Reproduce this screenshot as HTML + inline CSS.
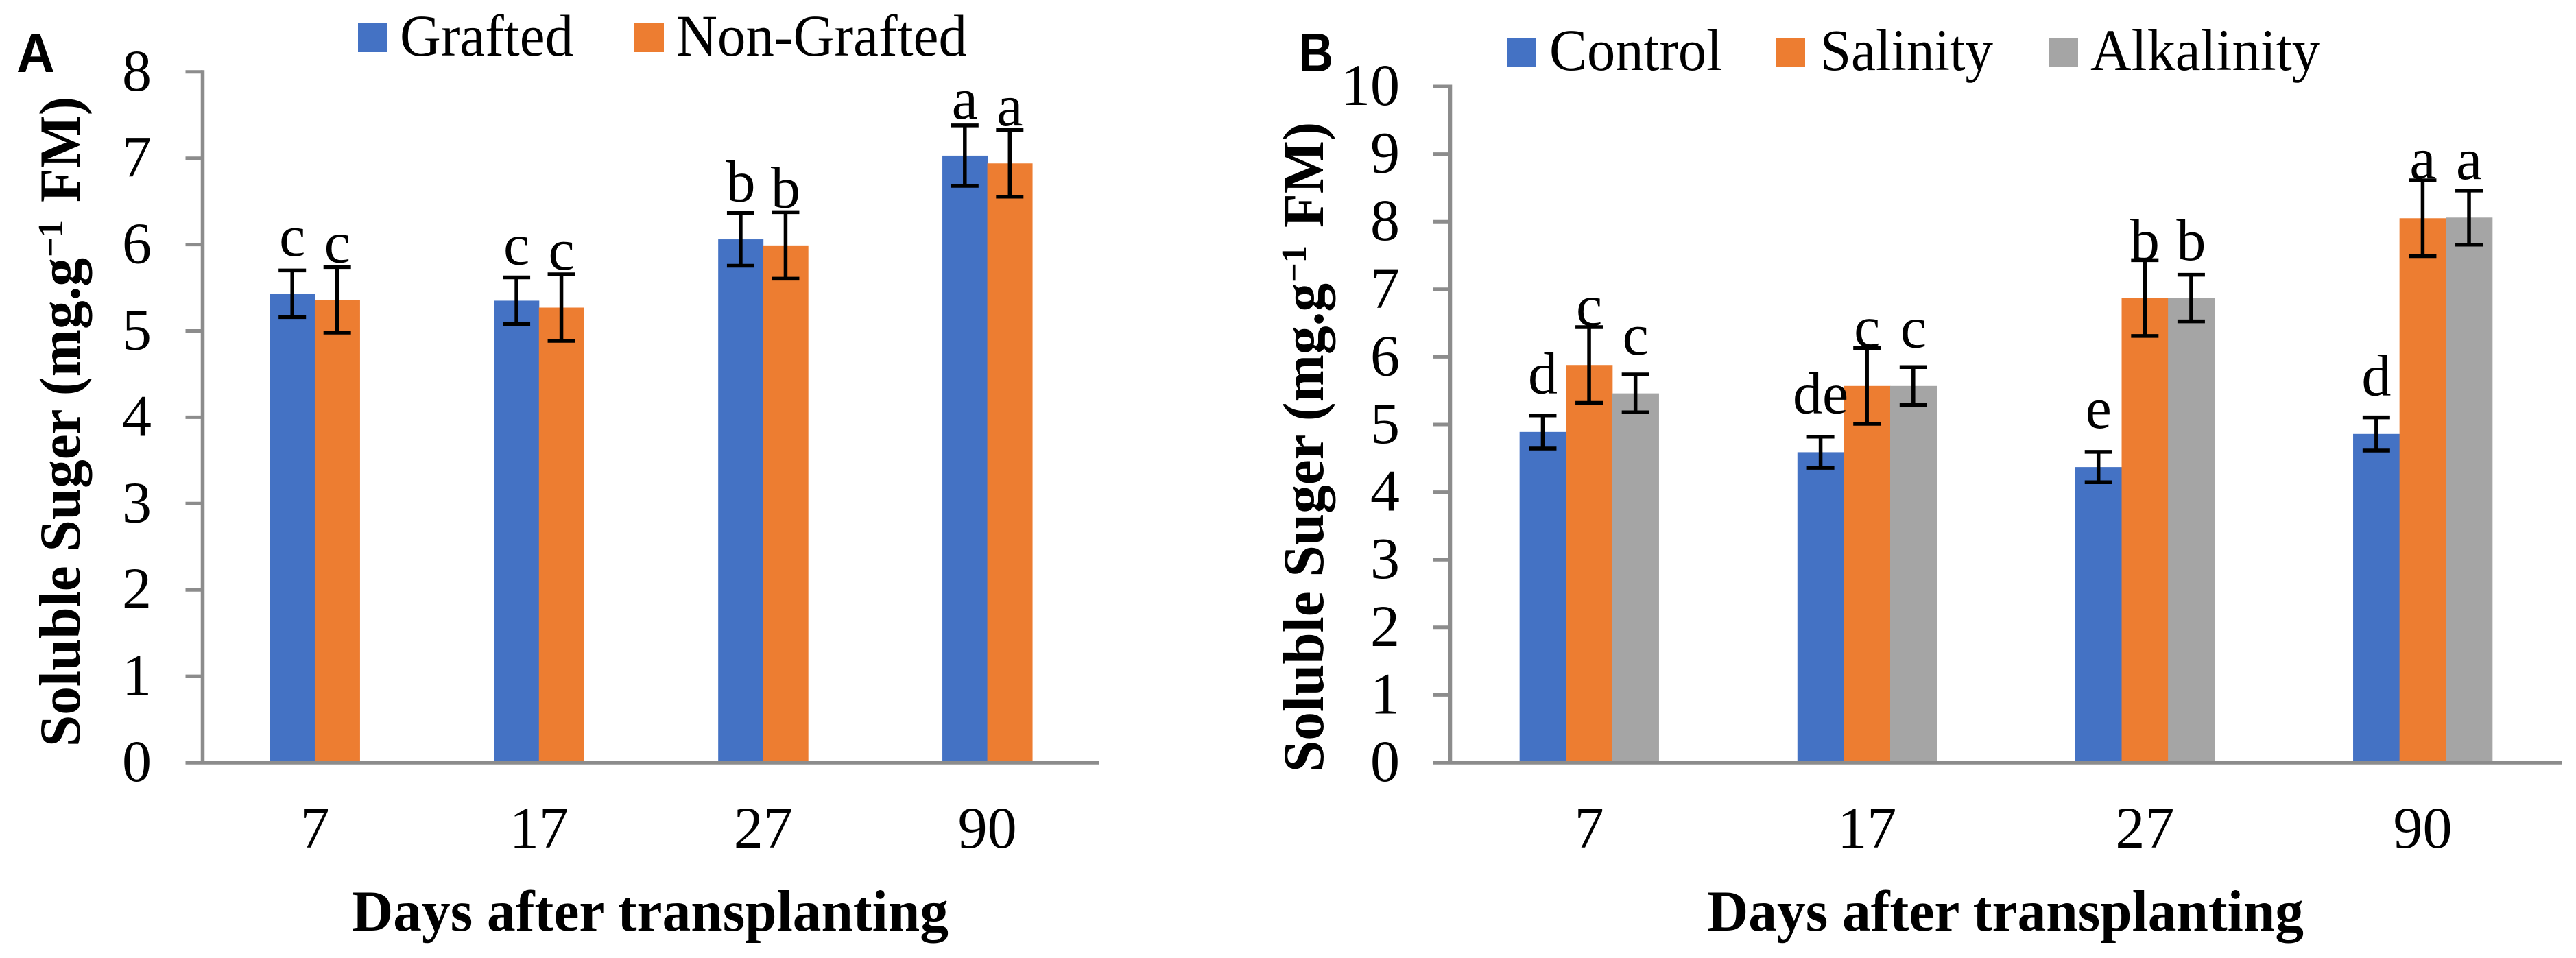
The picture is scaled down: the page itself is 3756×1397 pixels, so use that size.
<!DOCTYPE html>
<html lang="en">
<head>
<meta charset="utf-8">
<title>Soluble Sugar charts</title>
<style>
html,body{margin:0;padding:0;background:#fff;width:3756px;height:1397px;overflow:hidden}
svg{display:block}
text{font-family:"Liberation Serif",serif;fill:#000}
.sans{font-family:"Liberation Sans",sans-serif;font-weight:bold}
.bold{font-weight:bold}
</style>
</head>
<body>
<svg id="figure" xmlns="http://www.w3.org/2000/svg" width="3756" height="1397" viewBox="0 0 3756 1397">
  <rect x="0" y="0" width="3756" height="1397" fill="#fff"/>
  <g id="panel-a">
    <text class="sans" x="24" y="105" font-size="80" textLength="56" lengthAdjust="spacingAndGlyphs">A</text>
    <rect x="522" y="34" width="42" height="42" fill="#4472C4"/>
    <text x="583" y="81" font-size="86" textLength="253" lengthAdjust="spacingAndGlyphs">Grafted</text>
    <rect x="925" y="34" width="43" height="42" fill="#ED7D31"/>
    <text x="986" y="81" font-size="86" textLength="424" lengthAdjust="spacingAndGlyphs">Non-Grafted</text>
    <text class="bold" transform="translate(116,1089) rotate(-90)" font-size="85"><tspan x="0" y="0" textLength="713" lengthAdjust="spacingAndGlyphs">Soluble Suger (mg.g</tspan><tspan x="714" y="-25" font-size="52" textLength="54" lengthAdjust="spacingAndGlyphs">−1</tspan><tspan x="794" y="0" textLength="154" lengthAdjust="spacingAndGlyphs">FM)</tspan></text>
    <text class="bold" x="513" y="1357" font-size="85" textLength="870" lengthAdjust="spacingAndGlyphs">Days after transplanting</text>
  </g>
  <g id="panel-b">
    <text class="sans" x="1894" y="104" font-size="80" textLength="50" lengthAdjust="spacingAndGlyphs">B</text>
    <rect x="2197" y="55" width="42" height="42" fill="#4472C4"/>
    <text x="2259" y="102" font-size="86" textLength="252" lengthAdjust="spacingAndGlyphs">Control</text>
    <rect x="2590" y="55" width="42" height="42" fill="#ED7D31"/>
    <text x="2654" y="102" font-size="86" textLength="252" lengthAdjust="spacingAndGlyphs">Salinity</text>
    <rect x="2987" y="55" width="43" height="42" fill="#A5A5A5"/>
    <text x="3048" y="102" font-size="86" textLength="335" lengthAdjust="spacingAndGlyphs">Alkalinity</text>
    <text class="bold" transform="translate(1929,1126) rotate(-90)" font-size="85"><tspan x="0" y="0" textLength="713" lengthAdjust="spacingAndGlyphs">Soluble Suger (mg.g</tspan><tspan x="714" y="-25" font-size="52" textLength="54" lengthAdjust="spacingAndGlyphs">−1</tspan><tspan x="794" y="0" textLength="154" lengthAdjust="spacingAndGlyphs">FM)</tspan></text>
    <text class="bold" x="2489" y="1357" font-size="85" textLength="870" lengthAdjust="spacingAndGlyphs">Days after transplanting</text>
  </g>
</svg>
<script>
const categories = ['7', '17', '27', '90'];
const yTicksA = [0, 1, 2, 3, 4, 5, 6, 7, 8];
const yTicksB = [0, 1, 2, 3, 4, 5, 6, 7, 8, 9, 10];

const grafted = [5.43, 5.35, 6.06, 7.03];
const nonGrafted = [5.36, 5.27, 5.99, 6.94];
const graftedErr = [0.27, 0.27, 0.305, 0.35];
const nonGraftedErr = [0.38, 0.385, 0.385, 0.385];
const graftedLetters = ['c', 'c', 'b', 'a'];
const nonGraftedLetters = ['c', 'c', 'b', 'a'];
const graftedLetterGap = [0.17, 0.15, 0.135, 0.08];
const nonGraftedLetterGap = [0.055, 0.055, 0.055, 0.055];

const control = [4.89, 4.59, 4.37, 4.86];
const salinity = [5.88, 5.57, 6.87, 8.05];
const alkalinity = [5.46, 5.57, 6.87, 8.06];
const controlErr = [0.245, 0.23, 0.225, 0.245];
const salinityErr = [0.56, 0.56, 0.56, 0.56];
const alkalinityErr = [0.28, 0.28, 0.345, 0.40];
const controlLetters = ['d', 'de', 'e', 'd'];
const salinityLetters = ['c', 'c', 'b', 'a'];
const alkalinityLetters = ['c', 'c', 'b', 'a'];
const controlLetterGap = [0.325, 0.345, 0.355, 0.325];
const salinityLetterGap = [0.025, 0.02, 0.01, 0.03];
const alkalinityLetterGap = [0.295, 0.29, 0.22, 0.17];

const SVGNS = 'http://www.w3.org/2000/svg';
const AXIS = '#8C8C8C';

function make(parent, tag, attrs, text) {
  const el = document.createElementNS(SVGNS, tag);
  for (const k in attrs) el.setAttribute(k, attrs[k]);
  if (text !== undefined) el.textContent = text;
  parent.appendChild(el);
  return el;
}

function drawPanel(panelId, cfg) {
  const parent = document.getElementById(panelId);
  const yScale = v => cfg.baseY - v * cfg.unit;
  const step = (cfg.right - cfg.left) / categories.length;
  const xBand = i => cfg.left + step * (i + 0.5);
  const n = cfg.series.length;
  const barX = (i, s) => xBand(i) + (s - n / 2) * cfg.barW;

  // bars
  cfg.series.forEach((series, s) => {
    series.values.forEach((v, i) => {
      const bar = make(parent, 'rect', {x: barX(i, s), y: yScale(v), width: cfg.barW + 0.5, height: cfg.baseY - yScale(v), fill: series.color});
      
      
    });
  });

  // axes
  const yAxis = make(parent, 'line', {x1: cfg.left, x2: cfg.left, y1: yScale(cfg.ticks[cfg.ticks.length - 1]) - 2.5, y2: cfg.baseY, stroke: AXIS, 'stroke-width': 5.5});
  
  
  const xAxis = make(parent, 'line', {x1: cfg.left - 25, x2: cfg.right, y1: cfg.baseY, y2: cfg.baseY, stroke: AXIS, 'stroke-width': 5.5});
  
  

  cfg.ticks.forEach(t => {
    const tick = make(parent, 'line', {x1: cfg.left - 25, x2: cfg.left, y1: yScale(t), y2: yScale(t), stroke: AXIS, 'stroke-width': 5});
    
    
    const label = make(parent, 'text', {x: cfg.tickLabelX, y: yScale(t) + 27, 'font-size': 86, 'text-anchor': 'end'}, String(t));
    
    
  });

  categories.forEach((c, i) => {
    const label = make(parent, 'text', {x: xBand(i), y: 1236, 'font-size': 86, 'text-anchor': 'middle'}, c);
    
    
  });

  // error bars and significance letters
  cfg.series.forEach((series, s) => {
    series.values.forEach((v, i) => {
      const cx = barX(i, s) + cfg.barW / 2;
      const hi = v + series.err[i];
      const lo = v - series.err[i];
      const stem = make(parent, 'line', {x1: cx, x2: cx, y1: yScale(hi), y2: yScale(lo), stroke: '#000', 'stroke-width': 5.5});
      
      
      const capTop = make(parent, 'line', {x1: cx - 20, x2: cx + 20, y1: yScale(hi), y2: yScale(hi), stroke: '#000', 'stroke-width': 5.5});
      
      
      const capBottom = make(parent, 'line', {x1: cx - 20, x2: cx + 20, y1: yScale(lo), y2: yScale(lo), stroke: '#000', 'stroke-width': 5.5});
      
      
      const letter = make(parent, 'text', {x: cx, y: yScale(hi + series.gap[i]), 'font-size': 86, 'text-anchor': 'middle'}, series.letters[i]);
      
      
    });
  });
}

drawPanel('panel-a', {
  left: 295.5, right: 1603, baseY: 1112, unit: 125.9, barW: 65.5, tickLabelX: 221, ticks: yTicksA,
  series: [
    {name: 'grafted', color: '#4472C4', values: grafted, err: graftedErr, letters: graftedLetters, gap: graftedLetterGap},
    {name: 'non-grafted', color: '#ED7D31', values: nonGrafted, err: nonGraftedErr, letters: nonGraftedLetters, gap: nonGraftedLetterGap}
  ]
});

drawPanel('panel-b', {
  left: 2114.5, right: 3735, baseY: 1112, unit: 98.6, barW: 67.6, tickLabelX: 2041, ticks: yTicksB,
  series: [
    {name: 'control', color: '#4472C4', values: control, err: controlErr, letters: controlLetters, gap: controlLetterGap},
    {name: 'salinity', color: '#ED7D31', values: salinity, err: salinityErr, letters: salinityLetters, gap: salinityLetterGap},
    {name: 'alkalinity', color: '#A5A5A5', values: alkalinity, err: alkalinityErr, letters: alkalinityLetters, gap: alkalinityLetterGap}
  ]
});
</script>
</body>
</html>
